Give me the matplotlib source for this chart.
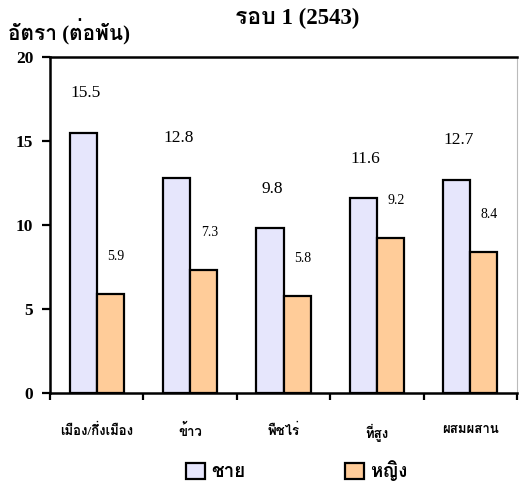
import matplotlib
matplotlib.use("Agg")
import matplotlib.pyplot as plt
from matplotlib import font_manager as fm
from matplotlib.patches import Patch
import numpy as np

categories = ["เมือง/กึ่งเมือง", "ข้าว", "พืชไร่", "ที่สูง", "ผสมผสาน"]
male = [15.5, 12.8, 9.8, 11.6, 12.7]
female = [5.9, 7.3, 5.8, 9.2, 8.4]
yticks = [0, 5, 10, 15, 20]
title = "รอบ 1 (2543)"
ylabel = "อัตรา (ต่อพัน)"
legend_labels = ["ชาย", "หญิง"]


def find_thai_font():
    try:
        from fontTools.ttLib import TTFont
    except Exception:
        return None
    names = []
    for f in fm.fontManager.ttflist:
        try:
            tt = TTFont(f.fname, fontNumber=0, lazy=True)
            cmap = tt.getBestCmap()
            if cmap and 0x0E2D in cmap and 0x0E0D in cmap:
                names.append(f.name)
        except Exception:
            pass
    pref = ["Tlwg", "Loma", "Garuda", "Norasi", "Noto Serif Thai", "Noto Sans Thai"]
    for p in pref:
        for n in names:
            if p in n:
                return n
    return names[0] if names else None


thai = find_thai_font()
fam = ["Liberation Serif"] + ([thai] if thai else []) + ["DejaVu Sans"]
plt.rcParams["font.family"] = fam

fig = plt.figure(figsize=(5.19, 4.94), dpi=100)
ax = fig.add_axes([50 / 519, 101 / 494, 467 / 519, 336 / 494])

x = np.arange(len(categories))
w = 0.29
male_color = "#E6E6FC"
female_color = "#FFCC99"
ax.bar(x - w / 2, male, w, color=male_color, edgecolor="black", linewidth=1.6, zorder=3)
ax.bar(x + w / 2, female, w, color=female_color, edgecolor="black", linewidth=1.6, zorder=3)

for xi, v in zip(x, male):
    ax.annotate(f"{v:.1f}", (xi - w / 2, v), xytext=(1.5, 28.5), textcoords="offset points",
                ha="center", va="center", fontsize=12.5)
for xi, v in zip(x, female):
    ax.annotate(f"{v:.1f}", (xi + w / 2, v), xytext=(4, 27), textcoords="offset points",
                ha="center", va="center", fontsize=10)

ax.set_xlim(-0.5, len(categories) - 0.5)
ax.set_ylim(0, 20)
ax.set_yticks(yticks)
ax.set_yticklabels([str(t) for t in yticks], fontweight="bold", fontsize=12.5)
ax.tick_params(axis="y", direction="out", length=6, width=1.6, pad=6)

ax.set_xticks(x)
ax.set_xticklabels(categories, fontweight="bold", fontsize=9.5)
ax.tick_params(axis="x", which="major", length=0, pad=22)
ax.set_xticks(np.arange(-0.5, len(categories), 1.0), minor=True)
ax.tick_params(axis="x", which="minor", direction="out", length=5, width=1.6)

for s in ["left", "bottom", "top"]:
    ax.spines[s].set_linewidth(1.8)
ax.spines["right"].set_color("#bbbbbb")
ax.spines["right"].set_linewidth(0.8)

fig.text(297 / 519, 1 - 18 / 494, title, ha="center", va="center", fontsize=16.5, fontweight="bold")
fig.text(8 / 519, 1 - 32 / 494, ylabel, ha="left", va="center", fontsize=15, fontweight="bold")

handles = [Patch(facecolor=male_color, edgecolor="black", linewidth=1.6),
           Patch(facecolor=female_color, edgecolor="black", linewidth=1.6)]
fig.legend(handles, legend_labels, loc="center", bbox_to_anchor=(297 / 519, 1 - 471 / 494), ncol=2,
           frameon=False, handlelength=1.0, handleheight=1.0, handletextpad=0.35,
           columnspacing=5.3, prop={"weight": "bold", "size": 13.5})

fig.savefig("out.png", dpi=100)
